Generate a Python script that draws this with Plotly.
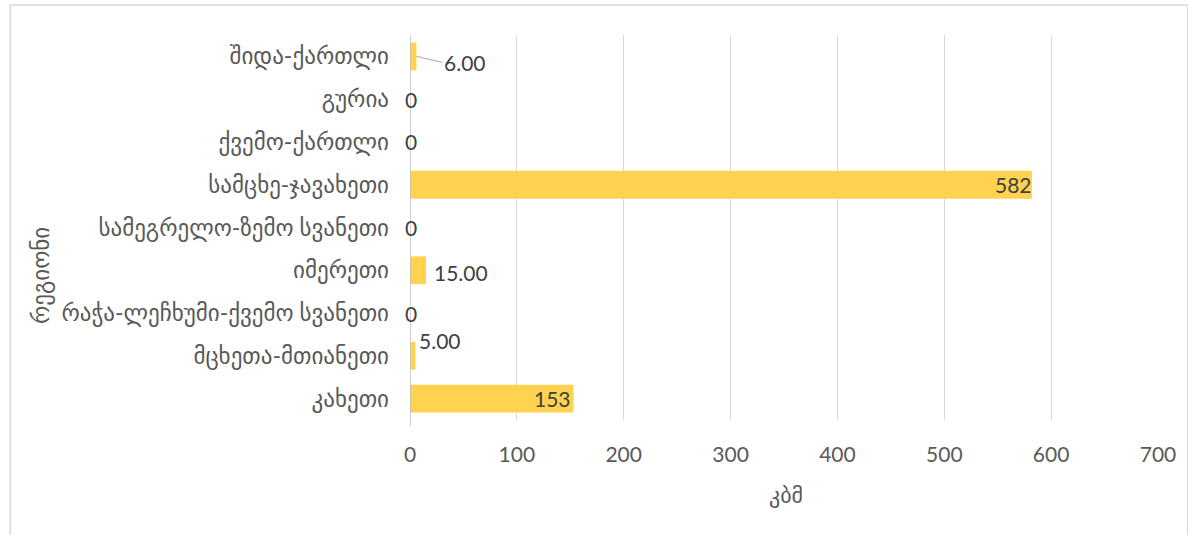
import plotly.graph_objects as go

categories = ["შიდა-ქართლი", "გურია", "ქვემო-ქართლი", "სამცხე-ჯავახეთი",
              "სამეგრელო-ზემო სვანეთი", "იმერეთი", "რაჭა-ლეჩხუმი-ქვემო სვანეთი",
              "მცხეთა-მთიანეთი", "კახეთი"]
values = [6, 0, 0, 582, 0, 15, 0, 5, 153]
value_labels = ["6.00", "0", "0", "582", "0", "15.00", "0", "5.00", "153"]
x_ticks = [0, 100, 200, 300, 400, 500, 600, 700]
x_title = "კბმ"
y_title = "რეგიონი"

FONT = "Lato, 'DejaVu Sans', sans-serif"
GREY = "#595959"
NUM = 21
GEO = 23

fig = go.Figure()
fig.add_trace(go.Bar(
    y=categories, x=values, orientation="h",
    marker=dict(color="#FFD34F", line=dict(width=0)),
    width=0.65, hoverinfo="skip",
))

# label placement style (per label)
label_style = [
    dict(xanchor="left", xshift=0, yshift=0, arrow=True),
    dict(xanchor="center", xshift=1, yshift=0, arrow=False),
    dict(xanchor="center", xshift=1, yshift=0, arrow=False),
    dict(xanchor="right", xshift=2, yshift=0, arrow=False),
    dict(xanchor="center", xshift=1, yshift=0, arrow=False),
    dict(xanchor="left", xshift=6, yshift=-2, arrow=False),
    dict(xanchor="center", xshift=1, yshift=0, arrow=False),
    dict(xanchor="left", xshift=2, yshift=15, arrow=False),
    dict(xanchor="right", xshift=0, yshift=0, arrow=False),
]
for cat, v, lab, st in zip(categories, values, value_labels, label_style):
    if st["arrow"]:
        fig.add_annotation(x=v, y=cat, xref="x", yref="y", text=lab,
                           showarrow=True, arrowhead=0, arrowwidth=1, arrowcolor="#A6A6A6",
                           ax=26, ay=6, xanchor="left", yanchor="middle",
                           font=dict(family=FONT, size=NUM, color="#404040"))
    else:
        fig.add_annotation(x=v, y=cat, xref="x", yref="y", text=lab, showarrow=False,
                           xanchor=st["xanchor"], yanchor="middle",
                           xshift=st["xshift"], yshift=st["yshift"],
                           font=dict(family=FONT, size=NUM, color="#404040"))

# axis titles
fig.add_annotation(x=(788 - 410) / 752, y=-(494 - 420) / 385, xref="paper", yref="paper",
                   text=x_title, showarrow=False, xanchor="center", yanchor="middle",
                   font=dict(family=FONT, size=22, color=GREY))
fig.add_annotation(x=-(410 - 38) / 752, y=(420 - 275) / 385, xref="paper", yref="paper",
                   text=y_title, showarrow=False, textangle=-90, xanchor="center", yanchor="middle",
                   font=dict(family=FONT, size=GEO, color=GREY))

# outer chart border
fig.add_shape(type="rect", xref="paper", yref="paper",
              x0=-(410 - 8) / 752, x1=(1192 - 410) / 752,
              y0=-0.5, y1=1 + (35 - 5) / 385,
              line=dict(color="#D9D9D9", width=1.5), fillcolor="rgba(0,0,0,0)", layer="below")

fig.update_layout(
    width=1188, height=535,
    margin=dict(l=410, r=26, t=35, b=115),
    paper_bgcolor="white", plot_bgcolor="white",
    showlegend=False,
    font=dict(family=FONT, size=NUM, color=GREY),
)
fig.update_xaxes(range=[0, 700], tickvals=x_ticks, ticktext=[str(t) for t in x_ticks],
                 showgrid=True, gridcolor="#D9D9D9", gridwidth=1,
                 zeroline=False, showline=False, ticks="", ticklabelstandoff=20,
                 tickfont=dict(family=FONT, size=NUM, color=GREY), fixedrange=True)
fig.update_yaxes(categoryorder="array", categoryarray=categories[::-1],
                 autorange=True, showgrid=False, zeroline=False,
                 showline=False, ticks="", ticklabelstandoff=20,
                 tickfont=dict(family=FONT, size=GEO, color=GREY), fixedrange=True)
# vertical axis line at x=0
fig.add_shape(type="line", xref="x", yref="paper", x0=0, x1=0, y0=-0.015, y1=1,
              line=dict(color="#BFBFBF", width=1.5), layer="above")

fig.write_html("out.html", config={"displayModeBar": False},
               post_script="document.body.style.margin='0';document.body.style.overflow='hidden';")
